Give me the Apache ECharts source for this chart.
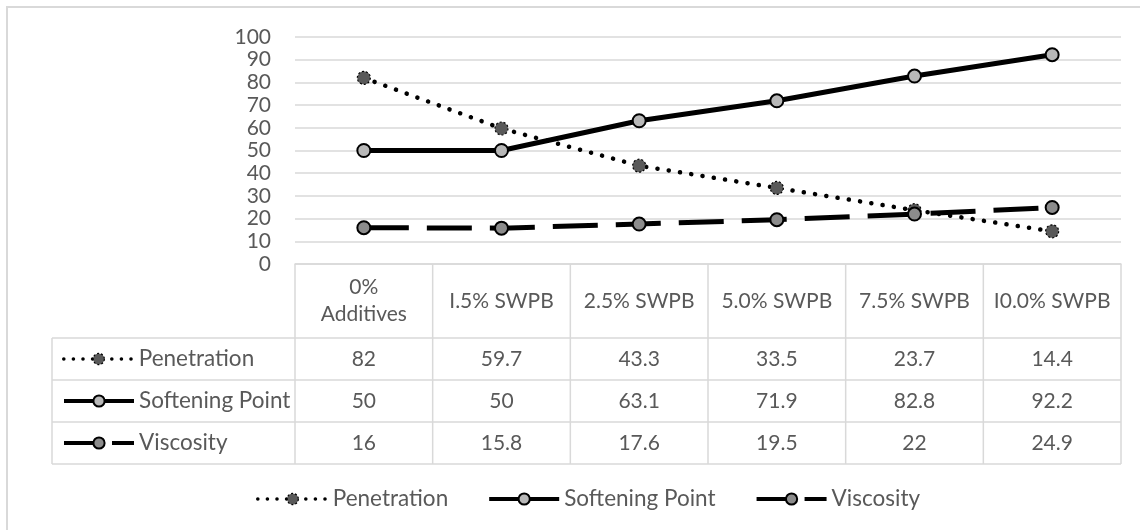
<!DOCTYPE html>
<html><head><meta charset="utf-8">
<script src="https://cdn.jsdelivr.net/npm/echarts@6/dist/echarts.min.js"></script>
<style>html,body{margin:0;padding:0;background:#fff}#c{width:1140px;height:530px}</style>
</head><body><div id="c"></div>
<script>
const categories = ["0%\nAdditives", "I.5% SWPB", "2.5% SWPB", "5.0% SWPB", "7.5% SWPB", "I0.0% SWPB"];
const seriesNames = ["Penetration", "Softening Point", "Viscosity"];
const penetration = [82, 59.7, 43.3, 33.5, 23.7, 14.4];
const softening = [50, 50, 63.1, 71.9, 82.8, 92.2];
const viscosity = [16, 15.8, 17.6, 19.5, 22, 24.9];
const yTicks = [0, 10, 20, 30, 40, 50, 60, 70, 80, 90, 100];

const FONT = 'Lato';
const FS = 21;
const LFS = 22.5;
const TXT = '#595959';
const GRID = '#d9d9d9';

const chart = echarts.init(document.getElementById('c'));

const seriesDefs = [
  { name: seriesNames[0], data: penetration,
    lineStyle: { color: '#000', width: 4.5, type: [0.1, 11.3], cap: 'round' },
    itemStyle: { color: '#595959', borderColor: '#000', borderWidth: 1.2, borderType: [2, 2] },
    symbolSize: 13,
    legendLine: { color: '#000', width: 3.5, type: [0.1, 9.5], cap: 'round' } },
  { name: seriesNames[1], data: softening,
    lineStyle: { color: '#000', width: 5, type: 'solid' },
    itemStyle: { color: '#b8b8b8', borderColor: '#000', borderWidth: 2 },
    symbolSize: 13,
    legendLine: { color: '#000', width: 4, type: 'solid' } },
  { name: seriesNames[2], data: viscosity,
    lineStyle: { color: '#000', width: 5, type: [45, 18] },
    itemStyle: { color: '#8c8c8c', borderColor: '#000', borderWidth: 2 },
    symbolSize: 13,
    legendLine: { color: '#000', width: 4, type: [40, 8] } }
];

const series = seriesDefs.map(s => ({
  type: 'line', name: s.name, data: s.data, symbol: 'circle', symbolSize: s.symbolSize,
  showAllSymbol: true, lineStyle: s.lineStyle, itemStyle: s.itemStyle, z: 3,
  emphasis: { disabled: true }
}));

function legendItems(names) {
  return names.map(n => {
    const d = seriesDefs.find(s => s.name === n);
    return { name: n, lineStyle: d.legendLine, itemStyle: d.itemStyle };
  });
}

function rowLegend(name, top) {
  return {
    data: legendItems([name]), left: 62, top: top, padding: 0, itemWidth: 70, itemHeight: 14, itemGap: 0,
    selectedMode: false,
    textStyle: { color: TXT, fontFamily: FONT, fontSize: LFS, lineHeight: 24 }
  };
}

const gridTop = 37, gridBottom = 266, gridLeft = 295, gridRight = 19;
const axisY = 530 - gridBottom;
const headerH = 74, rowH = 42;

const option = {
  animation: false,
  grid: { left: gridLeft, right: gridRight, top: gridTop, bottom: gridBottom },
  xAxis: {
    type: 'category', data: categories, boundaryGap: true,
    axisLine: { show: true, lineStyle: { color: GRID, width: 1.5 } },
    axisTick: { show: false }, axisLabel: { show: false }, splitLine: { show: false }
  },
  yAxis: {
    type: 'value', min: yTicks[0], max: yTicks[yTicks.length - 1], interval: 10,
    axisLine: { show: false }, axisTick: { show: false },
    axisLabel: { color: TXT, fontFamily: FONT, fontSize: FS, margin: 24 },
    splitLine: { lineStyle: { color: GRID, width: 1.5 } }
  },
  legend: [
    {
      data: legendItems(seriesNames), left: 256, top: 487, padding: 0, itemWidth: 70, itemHeight: 14, itemGap: 39,
      selectedMode: false,
      textStyle: { color: TXT, fontFamily: FONT, fontSize: LFS, lineHeight: 24 }
    },
    rowLegend(seriesNames[0], axisY + headerH + rowH / 2 - 12),
    rowLegend(seriesNames[1], axisY + headerH + rowH * 1.5 - 12),
    rowLegend(seriesNames[2], axisY + headerH + rowH * 2.5 - 12)
  ],
  series: series
};
chart.setOption(option);

// Data table under the plot, aligned to the category axis
const xs = categories.map((c, i) => chart.convertToPixel({ xAxisIndex: 0 }, i));
const colW = xs[1] - xs[0];
const y0 = chart.convertToPixel({ yAxisIndex: 0 }, 0);
const tableLeft = 52;
const plotLeft = xs[0] - colW / 2;
const plotRight = xs[xs.length - 1] + colW / 2;
const tableBottom = y0 + headerH + rowH * 3;
const lineStyle = { stroke: GRID, lineWidth: 1.5 };
const g = [];
// outer chart border
g.push({ type: 'rect', shape: { x: 7, y: 7, width: 1150, height: 540 }, style: { fill: null, stroke: GRID, lineWidth: 2 }, silent: true });
// vertical lines
for (let i = 0; i <= categories.length; i++) {
  const x = plotLeft + i * colW;
  g.push({ type: 'line', shape: { x1: x, y1: y0, x2: x, y2: tableBottom }, style: lineStyle, silent: true });
}
g.push({ type: 'line', shape: { x1: tableLeft, y1: y0 + headerH, x2: tableLeft, y2: tableBottom }, style: lineStyle, silent: true });
// horizontal lines
for (let r = 0; r <= 3; r++) {
  const y = y0 + headerH + r * rowH;
  g.push({ type: 'line', shape: { x1: tableLeft, y1: y, x2: plotRight, y2: y }, style: lineStyle, silent: true });
}
// header texts
categories.forEach((c, i) => {
  g.push({ type: 'text', x: xs[i], y: y0 + headerH / 2, silent: true,
    style: { text: c, fill: TXT, font: FS + 'px ' + FONT, align: 'center', verticalAlign: 'middle', lineHeight: 27 } });
});
// values
[penetration, softening, viscosity].forEach((arr, r) => {
  arr.forEach((v, i) => {
    g.push({ type: 'text', x: xs[i], y: y0 + headerH + rowH * (r + 0.5), silent: true,
      style: { text: String(v), fill: TXT, font: FS + 'px ' + FONT, align: 'center', verticalAlign: 'middle' } });
  });
});
chart.setOption({ graphic: g });
</script>
</body></html>
